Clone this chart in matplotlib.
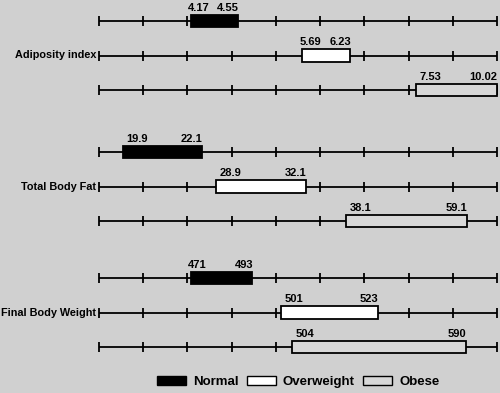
import matplotlib
matplotlib.use("Agg")
import matplotlib.pyplot as plt
from matplotlib.patches import Patch

plt.rcParams['font.family'] = ['Liberation Sans', 'DejaVu Sans']

# ---- data ----
groups = ['Adiposity index', 'Total Body Fat', 'Final Body Weight']
categories = ['Normal', 'Overweight', 'Obese']

adiposity_low = [4.17, 5.69, 7.53]
adiposity_high = [4.55, 6.23, 10.02]
bodyfat_low = [19.9, 28.9, 38.1]
bodyfat_high = [22.1, 32.1, 59.1]
weight_low = [471, 501, 504]
weight_high = [493, 523, 590]

# bar extents on the schematic (tick-unit) scale
adiposity_start = [2.08, 4.59, 7.17]
adiposity_end = [3.14, 5.68, 9.00]
bodyfat_start = [0.54, 2.65, 5.59]
bodyfat_end = [2.33, 4.68, 8.32]
weight_start = [2.08, 4.12, 4.36]
weight_end = [3.47, 6.31, 8.30]

n_ticks = 10

# ---- style ----
bg = '#d0d0d0'
fills = ['#000000', '#ffffff', '#d8d8d8']
formats = ['{:.2f}', '{:.1f}', '{:d}']

fig = plt.figure(figsize=(5.0, 3.93), dpi=100, facecolor=bg)
ax = fig.add_axes([0, 0, 1, 1])
ax.set_facecolor(bg)
ax.axis('off')
x0_px, step_px = 99.0, 44.22
ax.set_xlim(-x0_px / step_px, (500 - x0_px) / step_px)
ax.set_ylim(393, 0)

group_tops = [21, 152, 278]
row_gap = 34.5

lows = [adiposity_low, bodyfat_low, weight_low]
highs = [adiposity_high, bodyfat_high, weight_high]
starts = [adiposity_start, bodyfat_start, weight_start]
ends = [adiposity_end, bodyfat_end, weight_end]

for g, name in enumerate(groups):
    for r in range(3):
        y = group_tops[g] + r * row_gap
        ax.hlines(y, 0, n_ticks - 1, color='black', lw=1.3, zorder=1)
        ax.vlines(range(n_ticks), y - 5, y + 5, color='black', lw=1.3, zorder=1)
        s, e = starts[g][r], ends[g][r]
        ax.barh(y, e - s, left=s, height=12.5, color=fills[r],
                edgecolor='black', lw=1.3, zorder=3)
        lo = formats[g].format(lows[g][r])
        hi = formats[g].format(highs[g][r])
        narrow = (e - s) * step_px < 65
        lo_dx = -2.0 if narrow else 2.5
        ax.annotate(lo, (s, y - 6), xytext=(lo_dx, 3), textcoords='offset points',
                    ha='left', va='baseline', fontsize=8, fontweight='bold')
        ax.annotate(hi, (e, y - 6), xytext=(0.5, 3), textcoords='offset points',
                    ha='right', va='baseline', fontsize=8, fontweight='bold')
    ymid = group_tops[g] + row_gap
    ax.annotate(name, (0, ymid), xytext=(-2.2, 0), textcoords='offset points',
                ha='right', va='center', fontsize=7.8, fontweight='bold')

handles = [Patch(facecolor=fills[i], edgecolor='black', lw=1.0, label=categories[i])
           for i in range(3)]
fig.legend(handles=handles, loc='center', bbox_to_anchor=(298 / 500, 1 - 382 / 393),
           ncol=3, frameon=False, prop={'weight': 'bold', 'size': 9.5},
           handlelength=2.2, handleheight=0.75, handletextpad=0.55,
           columnspacing=0.6, borderpad=0)

fig.savefig('out.png', dpi=100, facecolor=bg)
